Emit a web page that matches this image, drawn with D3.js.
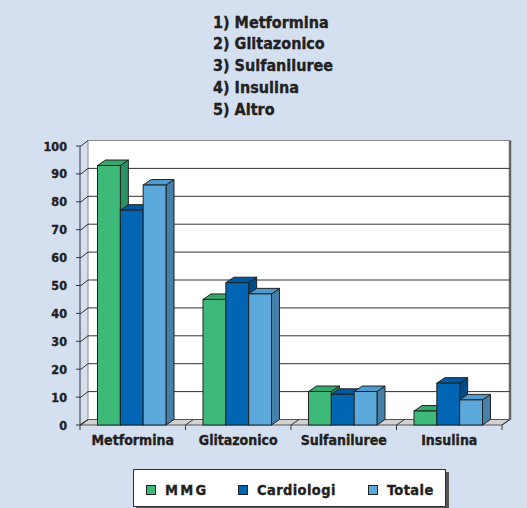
<!DOCTYPE html>
<html>
<head>
<meta charset="utf-8">
<script src="https://cdn.jsdelivr.net/npm/d3@7"></script>
<style>
  body { margin: 0; background: #d4dff0; }
  svg { display: block; font-family: "DejaVu Sans Condensed", "DejaVu Sans", sans-serif; font-weight: bold; }
  svg text { stroke: #231f20; stroke-width: 0.35px; }
</style>
</head>
<body>
<svg id="chart" width="527" height="508"></svg>
<script>
// data
const titleLines = ["1) Metformina", "2) Glitazonico", "3) Sulfaniluree", "4) Insulina", "5) Altro"];
const categories = ["Metformina", "Glitazonico", "Sulfaniluree", "Insulina"];
const series = ["MMG", "Cardiologi", "Totale"];
const mmg = [93, 45, 12, 5];
const cardiologi = [77, 51, 11, 15];
const totale = [86, 47, 12, 9];
const yTicks = [0, 10, 20, 30, 40, 50, 60, 70, 80, 90, 100];

const values = { "MMG": mmg, "Cardiologi": cardiologi, "Totale": totale };
const colors = {
    "MMG": { front: "#3dba7a", side: "#2a9263", top: "#34a86d" },
    "Cardiologi": { front: "#0066b3", side: "#004c88", top: "#0058a0" },
    "Totale": { front: "#5ca9dc", side: "#4580aa", top: "#4f9bcf" }
};

const svg = d3.select("#chart");
const dx = 8, dy = -5.5;
const plotLeft = 80, plotRight = 502, plotBottom = 425, plotTop = 146;

const y = d3.scaleLinear().domain([0, 100]).range([plotBottom, plotTop]);
const x0 = d3.scaleBand().domain(categories).range([plotLeft, plotRight]);
const x1 = d3.scaleBand().domain(series).range([17.5, 86]);

// title list
svg.append("g")
    .selectAll("text")
    .data(titleLines)
    .enter().append("text")
    .attr("x", 213)
    .attr("y", (d, i) => 27.5 + i * 21.9)
    .style("font-size", "16px")
    .style("fill", "#231f20")
    .text(d => d);

// back wall
svg.append("rect")
    .attr("x", plotLeft + dx).attr("y", y(100) + dy)
    .attr("width", plotRight - plotLeft).attr("height", y(0) - y(100))
    .attr("fill", "#fff")
    .attr("stroke", "#888").attr("stroke-width", 1);
svg.append("line")
    .attr("x1", plotRight + dx).attr("x2", plotRight + dx)
    .attr("y1", y(100) + dy).attr("y2", y(0) + dy)
    .attr("stroke", "#666").attr("stroke-width", 2.5);

// gridlines on wall
svg.append("g")
    .selectAll("line")
    .data(yTicks.filter(d => d > 0 && d < 100))
    .enter().append("line")
    .attr("x1", plotLeft + dx).attr("x2", plotRight + dx)
    .attr("y1", d => y(d) + dy).attr("y2", d => y(d) + dy)
    .attr("stroke", "#333").attr("stroke-width", 1);

// floor
svg.append("path")
    .attr("d", `M${plotLeft},${y(0)} L${plotRight},${y(0)} L${plotRight + dx},${y(0) + dy} L${plotLeft + dx},${y(0) + dy} Z`)
    .attr("fill", "#d2d2d2")
    .attr("stroke", "#555").attr("stroke-width", 1);

// category tick marks
const bounds = [plotLeft].concat(categories.map(c => x0(c) + x0.bandwidth()));
svg.append("g")
    .selectAll("path")
    .data(bounds)
    .enter().append("path")
    .attr("d", d => `M${d},${y(0) + 5} L${d},${y(0)} L${d + dx},${y(0) + dy}`)
    .attr("fill", "none")
    .attr("stroke", "#333").attr("stroke-width", 1);

// y axis
svg.append("line")
    .attr("x1", plotLeft).attr("x2", plotLeft)
    .attr("y1", y(100)).attr("y2", y(0))
    .attr("stroke", "#333").attr("stroke-width", 1);
const yAxis = svg.append("g");
yAxis.selectAll("path")
    .data(yTicks)
    .enter().append("path")
    .attr("d", d => `M${plotLeft - 4},${y(d)} L${plotLeft + 1},${y(d)} L${plotLeft + dx},${y(d) + dy}`)
    .attr("fill", "none")
    .attr("stroke", "#333").attr("stroke-width", 1);
yAxis.selectAll("text")
    .data(yTicks)
    .enter().append("text")
    .attr("x", 67)
    .attr("y", d => y(d))
    .attr("dy", "0.36em")
    .style("text-anchor", "end")
    .style("font-size", "12.5px")
    .style("fill", "#231f20")
    .text(d => d);

// bars
const bars = [];
categories.forEach((c, i) => {
    series.forEach(s => {
        bars.push({ cat: c, ser: s, value: values[s][i] });
    });
});

const bar = svg.append("g")
    .selectAll("g")
    .data(bars)
    .enter().append("g");

bar.append("path")
    .attr("d", d => {
        const xl = x0(d.cat) + x1(d.ser), xr = xl + x1.bandwidth(), yt = y(d.value);
        return `M${xr},${yt} L${xr + dx},${yt + dy} L${xr + dx},${y(0) + dy} L${xr},${y(0)} Z`;
    })
    .attr("fill", d => colors[d.ser].side)
    .attr("stroke", "#222").attr("stroke-width", 1).attr("stroke-linejoin", "round");

bar.append("path")
    .attr("d", d => {
        const xl = x0(d.cat) + x1(d.ser), xr = xl + x1.bandwidth(), yt = y(d.value);
        return `M${xl},${yt} L${xl + dx},${yt + dy} L${xr + dx},${yt + dy} L${xr},${yt} Z`;
    })
    .attr("fill", d => colors[d.ser].top)
    .attr("stroke", "#222").attr("stroke-width", 1).attr("stroke-linejoin", "round");

bar.append("rect")
    .attr("x", d => x0(d.cat) + x1(d.ser))
    .attr("y", d => y(d.value))
    .attr("width", x1.bandwidth())
    .attr("height", d => y(0) - y(d.value))
    .attr("fill", d => colors[d.ser].front)
    .attr("stroke", "#222").attr("stroke-width", 1);

// category labels
svg.append("g")
    .selectAll("text")
    .data(categories)
    .enter().append("text")
    .attr("x", d => x0(d) + x0.bandwidth() / 2)
    .attr("y", 445)
    .style("text-anchor", "middle")
    .style("font-size", "14px")
    .style("fill", "#231f20")
    .text(d => d);

// legend
const legend = svg.append("g");
legend.append("rect")
    .attr("x", 136).attr("y", 472).attr("width", 313).attr("height", 36)
    .attr("fill", "#555");
legend.append("rect")
    .attr("x", 133.5).attr("y", 469.5).attr("width", 312).attr("height", 37)
    .attr("fill", "#fff").attr("stroke", "#333").attr("stroke-width", 1);

const legendX = [146.5, 238.5, 368.5];
const item = legend.selectAll("g.item")
    .data(series)
    .enter().append("g")
    .attr("class", "item")
    .attr("transform", (d, i) => `translate(${legendX[i]},485.5)`);
item.append("rect")
    .attr("width", 9).attr("height", 9)
    .attr("fill", d => colors[d].front)
    .attr("stroke", "#222").attr("stroke-width", 1);
item.append("text")
    .attr("x", 18.5)
    .attr("y", 9.5)
    .style("font-size", "14.5px")
    .style("letter-spacing", d => d === "MMG" ? "2.3px" : "0.4px")
    .style("fill", "#231f20")
    .text(d => d);
</script>
</body>
</html>
